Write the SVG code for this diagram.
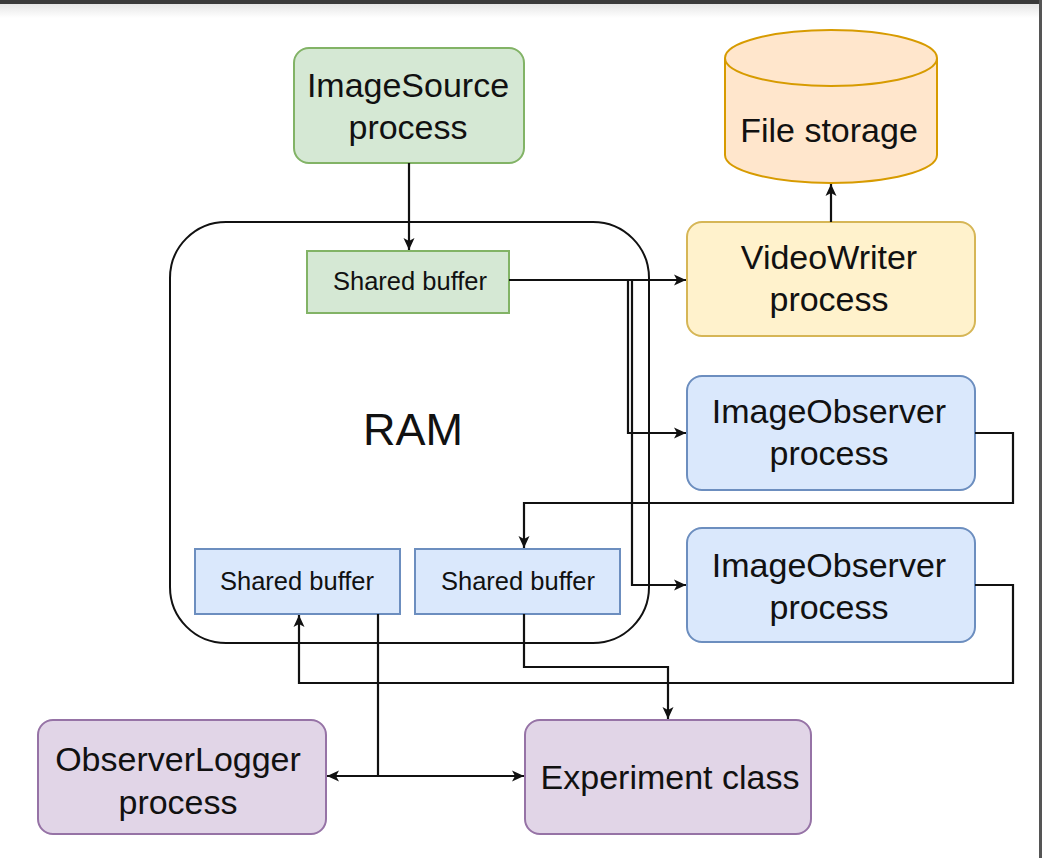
<svg xmlns="http://www.w3.org/2000/svg" width="1042" height="858" viewBox="0 0 1042 858">
<style>
.t{font-family:"Liberation Sans",Arial,sans-serif;font-size:34px;fill:#111;text-anchor:middle}
.s{font-family:"Liberation Sans",Arial,sans-serif;font-size:25.5px;fill:#111;text-anchor:middle}
.e{fill:none;stroke:#111;stroke-width:2.2}
.green{fill:#d5e8d4;stroke:#82b366;stroke-width:2}
.blue{fill:#dae8fc;stroke:#6c8ebf;stroke-width:2}
.yellow{fill:#fff2cc;stroke:#d6b656;stroke-width:2}
.orange{fill:#ffe6cc;stroke:#d79b00;stroke-width:2}
.purple{fill:#e1d5e7;stroke:#9673a6;stroke-width:2}
</style>
<defs>
<marker id="a" markerUnits="userSpaceOnUse" markerWidth="14" markerHeight="14" viewBox="0 0 14 14" refX="13" refY="7" orient="auto-start-reverse">
<path d="M1,1.5 L13,7 L1,12.5 L4,7 Z" fill="#111"/>
</marker>
<linearGradient id="sh" x1="0" y1="0" x2="0" y2="1">
<stop offset="0" stop-color="#e6e6e6"/>
<stop offset="1" stop-color="#ffffff"/>
</linearGradient>
</defs>
<rect x="0" y="0" width="1042" height="858" fill="#ffffff"/>
<rect x="0" y="4" width="1042" height="14" fill="url(#sh)"/>
<rect x="0" y="0" width="1042" height="4" fill="#3a3a3a"/>
<rect x="1039" y="0" width="3" height="858" fill="#555"/>

<g id="ram">
<rect x="170" y="222" width="479" height="421" rx="56" ry="56" fill="#ffffff" stroke="#111" stroke-width="2"/>
<text class="t" x="413" y="445" style="font-size:45px">RAM</text>
</g>
<g id="imagesource">
<rect class="green" x="294" y="48" width="230" height="115" rx="15"/>
<text class="t" x="408" y="97">ImageSource</text>
<text class="t" x="408" y="139">process</text>
</g>
<g id="filestorage">
<path class="orange" d="M725,58 A106,28 0 0 1 937,58 L937,155 A106,28 0 0 1 725,155 Z"/>
<path d="M725,58 A106,28 0 0 0 937,58" fill="none" stroke="#d79b00" stroke-width="2"/>
<text class="t" x="829" y="142">File storage</text>
</g>
<g id="videowriter">
<rect class="yellow" x="687" y="222" width="288" height="114" rx="15"/>
<text class="t" x="829" y="269">VideoWriter</text>
<text class="t" x="829" y="311">process</text>
</g>
<g id="observer1">
<rect class="blue" x="687" y="376" width="288" height="114" rx="15"/>
<text class="t" x="829" y="423">ImageObserver</text>
<text class="t" x="829" y="465">process</text>
</g>
<g id="observer2">
<rect class="blue" x="687" y="528" width="288" height="114" rx="15"/>
<text class="t" x="829" y="577">ImageObserver</text>
<text class="t" x="829" y="619">process</text>
</g>
<g id="buffer-top">
<rect class="green" x="307" y="251" width="202" height="62"/>
<text class="s" x="410" y="290">Shared buffer</text>
</g>
<g id="buffer-left">
<rect class="blue" x="195" y="549" width="205" height="65"/>
<text class="s" x="297" y="590">Shared buffer</text>
</g>
<g id="buffer-right">
<rect class="blue" x="415" y="549" width="205" height="65"/>
<text class="s" x="518" y="590">Shared buffer</text>
</g>
<g id="observerlogger">
<rect class="purple" x="38" y="720" width="288" height="114" rx="15"/>
<text class="t" x="178" y="771">ObserverLogger</text>
<text class="t" x="178" y="814">process</text>
</g>
<g id="experiment">
<rect class="purple" x="525" y="720" width="286" height="114" rx="15"/>
<text class="t" x="670" y="789">Experiment class</text>
</g>

<g id="connectors">
<path class="e" d="M409,163 L409,250" marker-end="url(#a)"/>
<path class="e" d="M831,222 L831,184" marker-end="url(#a)"/>
<path class="e" d="M509,280 L686,280" marker-end="url(#a)"/>
<path class="e" d="M509,280 L628,280 L628,433 L686,433" marker-end="url(#a)"/>
<path class="e" d="M509,280 L632,280 L632,585 L686,585" marker-end="url(#a)"/>
<path class="e" d="M975,433 L1013,433 L1013,503 L524,503 L524,548" marker-end="url(#a)"/>
<path class="e" d="M975,585 L1013,585 L1013,683 L299,683 L299,615" marker-end="url(#a)"/>
<path class="e" d="M524,614 L524,667 L668,667 L668,719" marker-end="url(#a)"/>
<path class="e" d="M378,614 L378,776"/>
<path class="e" d="M327,776 L524,776" marker-start="url(#a)" marker-end="url(#a)"/>
</g>
</svg>
